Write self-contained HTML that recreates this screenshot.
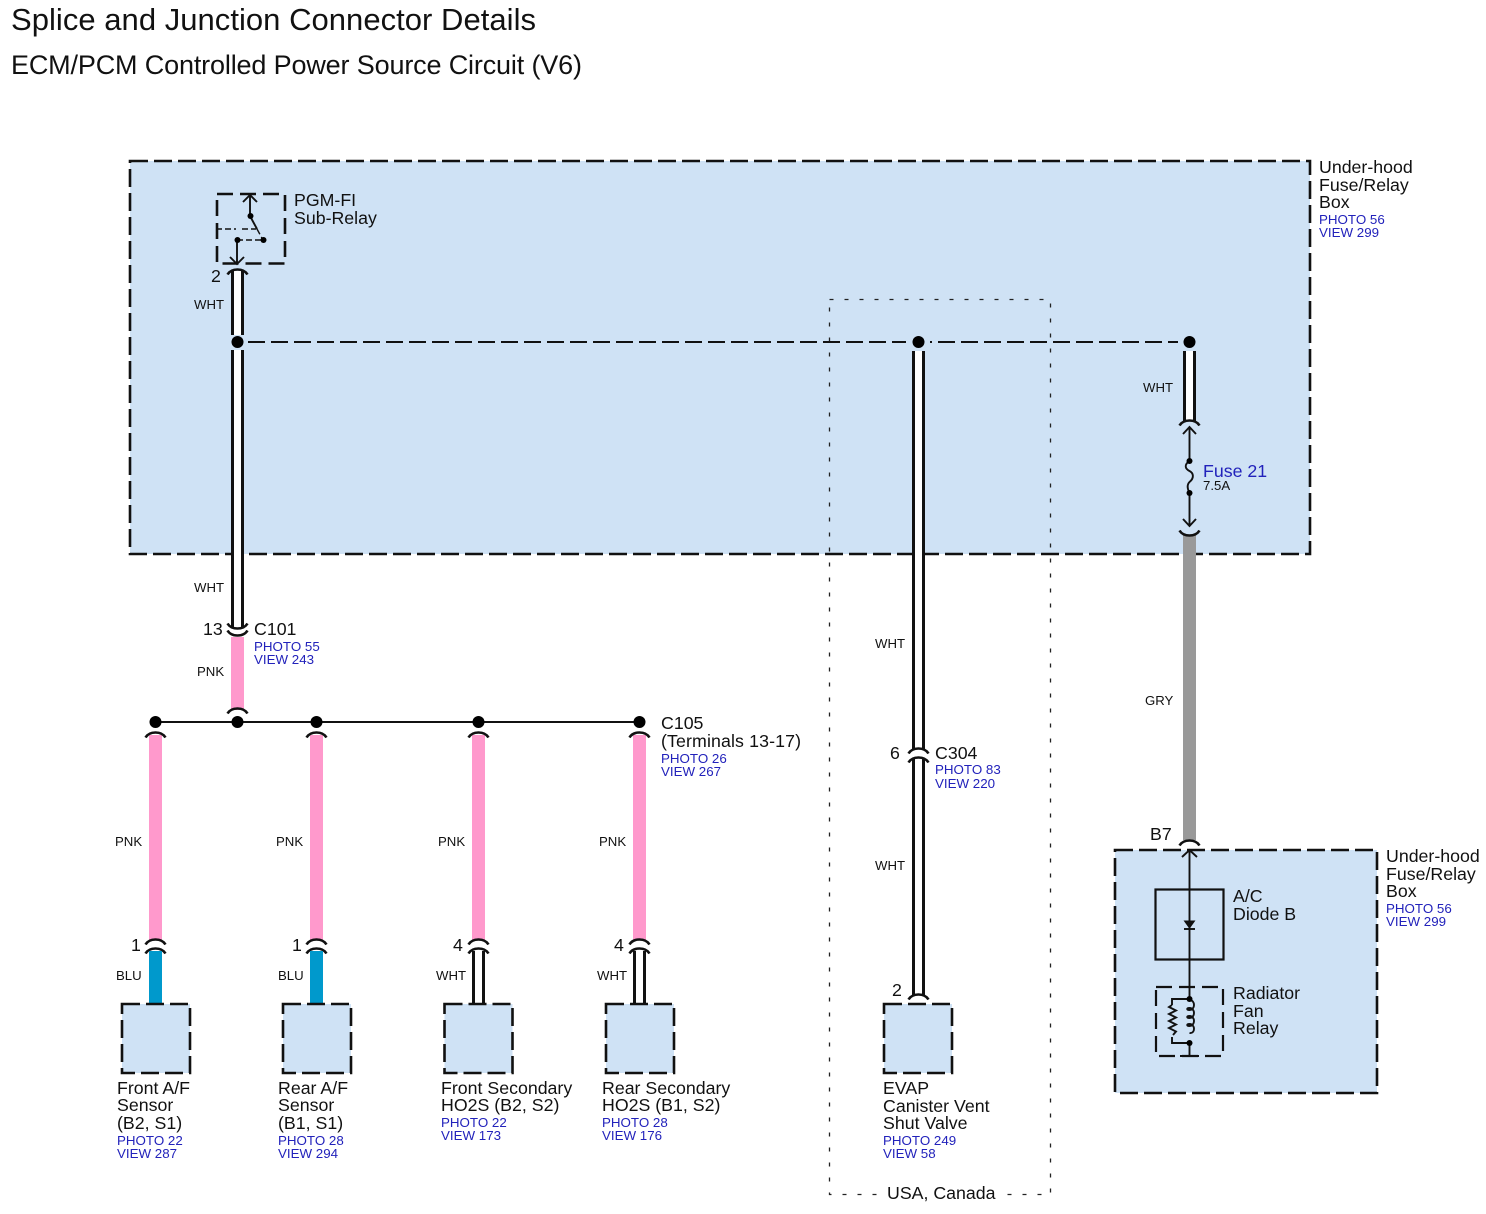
<!DOCTYPE html>
<html><head><meta charset="utf-8"><title>Splice and Junction Connector Details</title>
<style>
html,body{margin:0;padding:0;background:#fff}
svg{display:block}
text{font-family:"Liberation Sans",sans-serif;fill:#111}
.l{font-size:17.75px}
.s{font-size:13.2px}
.b{font-size:13.35px;fill:#2222bb}
.t{font-size:31px}
.n{font-size:17.75px}
.box{fill:#cfe2f5;stroke:#111;stroke-width:2.6;stroke-dasharray:18 6}
.sb{fill:#cfe2f5;stroke:#111;stroke-width:2.6;stroke-dasharray:18 6}
.arc{fill:none;stroke:#111;stroke-width:2.6}
.th{fill:none;stroke:#111;stroke-width:1.9}
.dot{fill:#000}
</style></head><body>
<svg width="1486" height="1214" viewBox="0 0 1486 1214" xmlns="http://www.w3.org/2000/svg">
<defs>
<path id="up" class="arc" d="M-10 3.500Q-7 -1.500 0 -1.500Q7 -1.500 10 3.500"/>
<path id="dn" class="arc" d="M-10 -3.500Q-7 1.500 0 1.500Q7 1.500 10 -3.500"/>
</defs>
<rect width="1486" height="1214" fill="#fff"/>
<text class="t" x="11" y="30" textLength="525">Splice and Junction Connector Details</text>
<text class="t" x="11" y="74" textLength="571" style="font-size:27px">ECM/PCM Controlled Power Source Circuit (V6)</text>

<rect class="box" x="130" y="161" width="1180" height="393"/>
<rect x="829.500" y="299.500" width="221" height="895" fill="none" stroke="#222" stroke-width="1.300" stroke-dasharray="4 11"/>
<rect x="880" y="1182" width="125" height="22" fill="#fff"/>

<!-- dashed bus -->
<line x1="248" y1="342" x2="1178" y2="342" stroke="#111" stroke-width="2" stroke-dasharray="17 6"/>
<rect x="906" y="335" width="24" height="14" fill="#cfe2f5"/>

<!-- wire 1 -->
<rect x="231" y="271" width="13" height="356" fill="#111"/>
<rect x="234" y="271" width="7" height="356" fill="#fff"/>
<rect x="229" y="335" width="17" height="15" fill="#cfe2f5"/>
<rect x="231" y="637" width="13" height="73" fill="#ff99cc"/>
<use href="#up" x="237.500" y="271"/>
<use href="#dn" x="237.500" y="627"/>
<use href="#dn" x="237.500" y="634"/>
<use href="#up" x="237.500" y="710"/>

<!-- wire 2 C304 -->
<rect x="912" y="351" width="13" height="398" fill="#111"/>
<rect x="915" y="351" width="7" height="398" fill="#fff"/>
<rect x="912" y="759" width="13" height="237" fill="#111"/>
<rect x="915" y="759" width="7" height="237" fill="#fff"/>
<use href="#up" x="918.500" y="750"/>
<use href="#up" x="918.500" y="759"/>
<use href="#up" x="918.500" y="996"/>

<!-- wire 3 fuse -->
<rect x="1183" y="351" width="13" height="70" fill="#111"/>
<rect x="1186" y="351" width="7" height="70" fill="#fff"/>
<use href="#up" x="1189.500" y="422"/>
<rect x="1183" y="535" width="13" height="305" fill="#999"/>
<use href="#dn" x="1189.500" y="534"/>
<use href="#up" x="1189.500" y="842"/>
<path class="th" d="M1189.500 428V461M1189.500 493V526M1183 434l6.500-7 6.500 7M1183 519l6.500 7 6.500-7"/>
<path class="th" d="M1189.500 461c-6 4-4 8 0 10s5 7 0 11c-3 3-2 7 0 11"/>
<circle class="dot" cx="1189.500" cy="461" r="3"/>
<circle class="dot" cx="1189.500" cy="493" r="3"/>

<!-- C105 bus -->
<line x1="155" y1="722" x2="640" y2="722" stroke="#111" stroke-width="2"/>
<g>
<rect x="149" y="735" width="13" height="205" fill="#ff99cc"/>
<rect x="310" y="735" width="13" height="205" fill="#ff99cc"/>
<rect x="472" y="735" width="13" height="205" fill="#ff99cc"/>
<rect x="633" y="735" width="13" height="205" fill="#ff99cc"/>
<use href="#up" x="155.500" y="734"/><use href="#up" x="316.500" y="734"/><use href="#up" x="478.500" y="734"/><use href="#up" x="639.500" y="734"/>
<use href="#up" x="155.500" y="941"/><use href="#up" x="316.500" y="941"/><use href="#up" x="478.500" y="941"/><use href="#up" x="639.500" y="941"/>
<use href="#up" x="155.500" y="950"/><use href="#up" x="316.500" y="950"/><use href="#up" x="478.500" y="950"/><use href="#up" x="639.500" y="950"/>
<rect x="149" y="951" width="13" height="53" fill="#0099cc"/>
<rect x="310" y="951" width="13" height="53" fill="#0099cc"/>
<rect x="472" y="951" width="13" height="53" fill="#111"/><rect x="475" y="951" width="7" height="53" fill="#fff"/>
<rect x="633" y="951" width="13" height="53" fill="#111"/><rect x="636" y="951" width="7" height="53" fill="#fff"/>
</g>

<!-- dots -->
<circle class="dot" cx="237.500" cy="342" r="6"/><circle class="dot" cx="918.500" cy="342" r="6"/><circle class="dot" cx="1189.500" cy="342" r="6"/>
<circle class="dot" cx="155.500" cy="722" r="6"/><circle class="dot" cx="237.500" cy="722" r="6"/><circle class="dot" cx="316.500" cy="722" r="6"/><circle class="dot" cx="478.500" cy="722" r="6"/><circle class="dot" cx="639.500" cy="722" r="6"/>

<!-- sub-relay -->
<rect x="217" y="194" width="68" height="69.500" fill="none" stroke="#111" stroke-width="2.600" stroke-dasharray="16 7"/>
<path class="th" d="M250 194V216M243 202l7-7 7 7M250 216L257 229M237 240V264M230 257l7 7 7-7"/>
<path class="th" style="stroke-width:1.400" d="M216 229H236M242 229H256M257 229L263 240M237 240H263" stroke-dasharray="6 3"/>
<circle class="dot" cx="250.500" cy="216" r="3"/><circle class="dot" cx="263.500" cy="240" r="3"/><circle class="dot" cx="237.500" cy="240" r="3"/>

<!-- component boxes -->
<rect class="sb" x="122" y="1004" width="68" height="69"/>
<rect class="sb" x="283" y="1004" width="68" height="69"/>
<rect class="sb" x="444.500" y="1004" width="68" height="69"/>
<rect class="sb" x="606" y="1004" width="68" height="69"/>
<rect class="sb" x="884" y="1004" width="68" height="69"/>

<!-- lower right box -->
<rect class="box" x="1115" y="850" width="262" height="243"/>
<rect x="1155.500" y="889.500" width="68" height="70" fill="none" stroke="#111" stroke-width="2.200"/>
<rect x="1156" y="987" width="67" height="69" fill="none" stroke="#111" stroke-width="2.200" stroke-dasharray="16 7"/>
<path class="th" d="M1189.500 850V999M1182 857l7.500-7 7.500 7M1189.500 1043V1056M1180 1056H1199M1189.500 999H1172V1005M1172 1037V1043H1189.500"/>
<path d="M1184.500 921H1194.500L1189.500 928Z" fill="#111" stroke="#111"/>
<path class="th" d="M1184 929H1195"/>
<path class="th" d="M1172 1005l-3 2 7 3.500-7 3.500 7 3.500-7 3.500 7 3.500-7 3.500 7 3.500-3 3.500"/>
<path class="th" d="M1189.500 1000c6 0 6 10 0 10c-3 0-3-2 0-2c6 0 6 10 0 10c-3 0-3-2 0-2c6 0 6 10 0 10c-3 0-3-2 0-2c6 0 6 10 0 9"/>
<circle class="dot" cx="1189.500" cy="999" r="3"/><circle class="dot" cx="1189.500" cy="1043" r="3"/>

<!-- labels -->
<text class="l" x="294" y="206">PGM-FI</text>
<text class="l" x="294" y="224">Sub-Relay</text>
<text class="n" x="211" y="282">2</text>
<text class="s" x="194" y="309">WHT</text>
<text class="s" x="194" y="592">WHT</text>
<text class="l" x="1319" y="173">Under-hood</text>
<text class="l" x="1319" y="191">Fuse/Relay</text>
<text class="l" x="1319" y="208">Box</text>
<text class="b" x="1319" y="224">PHOTO 56</text>
<text class="b" x="1319" y="237">VIEW 299</text>
<text class="s" x="1143" y="392">WHT</text>
<text class="l" x="1203" y="477" style="fill:#2222bb">Fuse 21</text>
<text class="s" x="1203" y="490">7.5A</text>
<text class="n" x="203" y="635">13</text>
<text class="l" x="254" y="635">C101</text>
<text class="b" x="254" y="651">PHOTO 55</text>
<text class="b" x="254" y="664">VIEW 243</text>
<text class="s" x="197" y="676">PNK</text>
<text class="l" x="661" y="729">C105</text>
<text class="l" x="661" y="747" textLength="140">(Terminals 13-17)</text>
<text class="b" x="661" y="763">PHOTO 26</text>
<text class="b" x="661" y="776">VIEW 267</text>
<text class="s" x="115" y="846">PNK</text>
<text class="s" x="276" y="846">PNK</text>
<text class="s" x="438" y="846">PNK</text>
<text class="s" x="599" y="846">PNK</text>
<text class="n" x="131" y="951">1</text>
<text class="n" x="292" y="951">1</text>
<text class="n" x="453" y="951">4</text>
<text class="n" x="614" y="951">4</text>
<text class="s" x="116" y="980">BLU</text>
<text class="s" x="278" y="980">BLU</text>
<text class="s" x="436" y="980">WHT</text>
<text class="s" x="597" y="980">WHT</text>
<text class="s" x="875" y="648">WHT</text>
<text class="n" x="890" y="759">6</text>
<text class="l" x="935" y="759">C304</text>
<text class="b" x="935" y="774">PHOTO 83</text>
<text class="b" x="935" y="788">VIEW 220</text>
<text class="s" x="875" y="870">WHT</text>
<text class="n" x="892" y="996">2</text>
<text class="s" x="1145" y="705">GRY</text>
<text class="n" x="1150" y="840">B7</text>
<text class="l" x="1386" y="862">Under-hood</text>
<text class="l" x="1386" y="880">Fuse/Relay</text>
<text class="l" x="1386" y="897">Box</text>
<text class="b" x="1386" y="913">PHOTO 56</text>
<text class="b" x="1386" y="926">VIEW 299</text>
<text class="l" x="1233" y="902">A/C</text>
<text class="l" x="1233" y="920">Diode B</text>
<text class="l" x="1233" y="999">Radiator</text>
<text class="l" x="1233" y="1017">Fan</text>
<text class="l" x="1233" y="1034">Relay</text>

<text class="l" x="117" y="1094">Front A/F</text>
<text class="l" x="117" y="1111">Sensor</text>
<text class="l" x="117" y="1129">(B2, S1)</text>
<text class="b" x="117" y="1145">PHOTO 22</text>
<text class="b" x="117" y="1158">VIEW 287</text>
<text class="l" x="278" y="1094">Rear A/F</text>
<text class="l" x="278" y="1111">Sensor</text>
<text class="l" x="278" y="1129">(B1, S1)</text>
<text class="b" x="278" y="1145">PHOTO 28</text>
<text class="b" x="278" y="1158">VIEW 294</text>
<text class="l" x="441" y="1094">Front Secondary</text>
<text class="l" x="441" y="1111">HO2S (B2, S2)</text>
<text class="b" x="441" y="1127">PHOTO 22</text>
<text class="b" x="441" y="1140">VIEW 173</text>
<text class="l" x="602" y="1094">Rear Secondary</text>
<text class="l" x="602" y="1111">HO2S (B1, S2)</text>
<text class="b" x="602" y="1127">PHOTO 28</text>
<text class="b" x="602" y="1140">VIEW 176</text>
<text class="l" x="883" y="1094">EVAP</text>
<text class="l" x="883" y="1112">Canister Vent</text>
<text class="l" x="883" y="1129">Shut Valve</text>
<text class="b" x="883" y="1145">PHOTO 249</text>
<text class="b" x="883" y="1158">VIEW 58</text>
<text class="l" x="887" y="1199">USA, Canada</text>
</svg>
</body></html>
